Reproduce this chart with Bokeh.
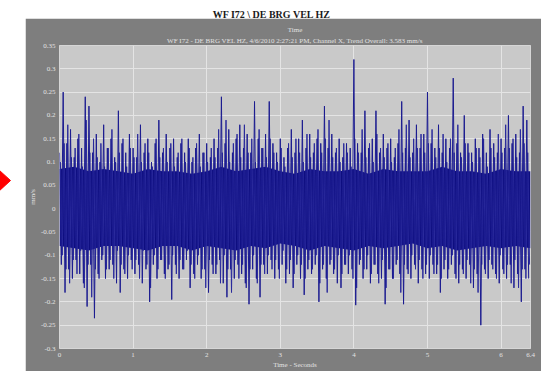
from bokeh.plotting import figure
from bokeh.layouts import column, row
from bokeh.models import Range1d, FixedTicker, Title
from bokeh.core.properties import value
from bokeh.embed import file_html
from bokeh.resources import INLINE

# ---------------- data ----------------
main_title = "WF I72 \\ DE BRG VEL HZ"
panel_title = "Time"
subtitle = "WF I72 - DE BRG VEL HZ, 4/6/2010 2:27:21 PM, Channel X, Trend Overall: 3.583 mm/s"
x_label = "Time - Seconds"
y_label = "mm/s"

x_ticks = [0, 1, 2, 3, 4, 5, 6, 6.4]
x_tick_labels = ["0", "1", "2", "3", "4", "5", "6", "6.4"]
y_ticks = [-0.3, -0.25, -0.2, -0.15, -0.1, -0.05, 0, 0.05, 0.1, 0.15, 0.2, 0.25, 0.3, 0.35]
y_tick_labels = ["-0.3", "-0.25", "-0.2", "-0.15", "-0.1", "-0.05", "0",
                 "0.05", "0.1", "0.15", "0.2", "0.25", "0.3", "0.35"]

sample_step = 0.05  # seconds between successive positive peaks of one sweep

# sweep A: positive peaks
upper_peaks = [
    0.12, 0.25, 0.14, 0.17, 0.11, 0.15, 0.13, 0.24, 0.22, 0.12,
    0.16, 0.10, 0.18, 0.13, 0.15, 0.11, 0.21, 0.14, 0.12, 0.16,
    0.13, 0.11, 0.18, 0.12, 0.15, 0.10, 0.14, 0.19, 0.12, 0.16,
    0.13, 0.15, 0.11, 0.14, 0.12, 0.15, 0.10, 0.13, 0.16, 0.12,
    0.14, 0.11, 0.15, 0.13, 0.24, 0.14, 0.17, 0.12, 0.15, 0.18,
    0.13, 0.16, 0.12, 0.23, 0.15, 0.13, 0.16, 0.23, 0.14, 0.12,
    0.15, 0.11, 0.13, 0.17, 0.12, 0.15, 0.19, 0.13, 0.16, 0.12,
    0.15, 0.14, 0.22, 0.13, 0.16, 0.12, 0.15, 0.11, 0.14, 0.13,
    0.32, 0.14, 0.12, 0.21, 0.13, 0.15, 0.21, 0.12, 0.16, 0.13,
    0.15, 0.11, 0.14, 0.23, 0.13, 0.19, 0.12, 0.18, 0.13, 0.16,
    0.25, 0.14, 0.13, 0.18, 0.12, 0.15, 0.13, 0.28, 0.14, 0.12,
    0.20, 0.14, 0.12, 0.15, 0.13, 0.16, 0.12, 0.17, 0.14, 0.12,
    0.15, 0.13, 0.20, 0.14, 0.16, 0.12, 0.22, 0.19,
]

# sweep A: negative peaks (half a step after each positive peak)
lower_peaks = [
    -0.12, -0.18, -0.13, -0.15, -0.11, -0.14, -0.16, -0.21, -0.12, -0.235,
    -0.14, -0.11, -0.15, -0.13, -0.12, -0.16, -0.18, -0.13, -0.15, -0.11,
    -0.14, -0.12, -0.16, -0.13, -0.20, -0.12, -0.15, -0.11, -0.14, -0.13,
    -0.195, -0.12, -0.15, -0.13, -0.11, -0.17, -0.14, -0.12, -0.15, -0.13,
    -0.18, -0.12, -0.14, -0.11, -0.16, -0.19, -0.13, -0.15, -0.12, -0.14,
    -0.16, -0.205, -0.13, -0.15, -0.19, -0.12, -0.14, -0.11, -0.15, -0.13,
    -0.12, -0.16, -0.14, -0.17, -0.12, -0.15, -0.185, -0.13, -0.14, -0.12,
    -0.20, -0.13, -0.15, -0.12, -0.14, -0.16, -0.17, -0.12, -0.14, -0.13,
    -0.207, -0.12, -0.15, -0.13, -0.16, -0.12, -0.14, -0.15, -0.205, -0.13,
    -0.15, -0.12, -0.14, -0.205, -0.13, -0.15, -0.12, -0.16, -0.13, -0.14,
    -0.15, -0.12, -0.14, -0.18, -0.13, -0.15, -0.12, -0.14, -0.16, -0.13,
    -0.15, -0.12, -0.17, -0.14, -0.25, -0.13, -0.15, -0.12, -0.14, -0.16,
    -0.13, -0.15, -0.12, -0.17, -0.14, -0.20, -0.13, -0.15,
]

# sweep B (the peaks lying between those of sweep A)
upper_peaks_b = [
    0.10, 0.14, 0.18, 0.11, 0.13, 0.16, 0.09, 0.19, 0.12, 0.15,
    0.11, 0.14, 0.09, 0.13, 0.17, 0.10, 0.12, 0.15, 0.09, 0.13,
    0.11, 0.16, 0.10, 0.14, 0.12, 0.09, 0.15, 0.11, 0.13, 0.10,
    0.14, 0.09, 0.12, 0.15, 0.10, 0.13, 0.11, 0.14, 0.09, 0.12,
    0.10, 0.13, 0.11, 0.17, 0.12, 0.19, 0.10, 0.14, 0.16, 0.11,
    0.18, 0.12, 0.15, 0.10, 0.17, 0.13, 0.11, 0.15, 0.12, 0.10,
    0.13, 0.09, 0.14, 0.11, 0.15, 0.12, 0.10, 0.16, 0.11, 0.14,
    0.17, 0.12, 0.15, 0.19, 0.11, 0.13, 0.10, 0.14, 0.12, 0.09,
    0.15, 0.12, 0.17, 0.11, 0.14, 0.10, 0.16, 0.13, 0.11, 0.14,
    0.10, 0.13, 0.17, 0.12, 0.18, 0.11, 0.15, 0.13, 0.16, 0.12,
    0.14, 0.17, 0.11, 0.13, 0.16, 0.10, 0.15, 0.12, 0.18, 0.11,
    0.14, 0.12, 0.10, 0.13, 0.11, 0.15, 0.09, 0.13, 0.11, 0.16,
    0.12, 0.18, 0.13, 0.15, 0.11, 0.17, 0.14, 0.12,
]
lower_peaks_b = [
    -0.10, -0.13, -0.16, -0.11, -0.14, -0.09, -0.17, -0.12, -0.19, -0.13,
    -0.15, -0.10, -0.13, -0.11, -0.15, -0.09, -0.12, -0.14, -0.10, -0.13,
    -0.11, -0.15, -0.09, -0.12, -0.17, -0.10, -0.13, -0.11, -0.15, -0.12,
    -0.10, -0.14, -0.11, -0.13, -0.09, -0.12, -0.15, -0.10, -0.13, -0.17,
    -0.11, -0.14, -0.12, -0.16, -0.10, -0.13, -0.18, -0.11, -0.15, -0.12,
    -0.17, -0.13, -0.10, -0.16, -0.12, -0.14, -0.10, -0.13, -0.11, -0.15,
    -0.09, -0.13, -0.11, -0.14, -0.10, -0.12, -0.15, -0.11, -0.13, -0.10,
    -0.16, -0.12, -0.18, -0.11, -0.13, -0.10, -0.14, -0.12, -0.10, -0.15,
    -0.17, -0.11, -0.13, -0.10, -0.14, -0.12, -0.16, -0.11, -0.17, -0.13,
    -0.15, -0.11, -0.18, -0.12, -0.14, -0.10, -0.13, -0.11, -0.15, -0.12,
    -0.10, -0.14, -0.12, -0.15, -0.11, -0.13, -0.10, -0.15, -0.12, -0.14,
    -0.11, -0.16, -0.13, -0.18, -0.12, -0.14, -0.11, -0.13, -0.15, -0.10,
    -0.14, -0.12, -0.16, -0.11, -0.17, -0.13, -0.15, -0.12,
]

# dense dark core of the signal: its edges every 0.2 s
core_step = 0.2
core_upper = [0.085, 0.09, 0.08, 0.085, 0.08, 0.075, 0.085, 0.08, 0.08, 0.075,
              0.08, 0.09, 0.08, 0.085, 0.09, 0.08, 0.075, 0.085, 0.08, 0.08,
              0.085, 0.075, 0.085, 0.08, 0.08, 0.08, 0.09, 0.08, 0.08, 0.075,
              0.085, 0.08, 0.08]
core_lower = [-0.08, -0.085, -0.09, -0.08, -0.08, -0.085, -0.09, -0.08, -0.08, -0.09,
              -0.08, -0.085, -0.09, -0.08, -0.085, -0.075, -0.08, -0.09, -0.08, -0.085,
              -0.09, -0.08, -0.085, -0.08, -0.075, -0.085, -0.08, -0.09, -0.085, -0.08,
              -0.085, -0.08, -0.085]


def sweep(ups, lows, start):
    t, v = [], []
    for i, (u, l) in enumerate(zip(ups, lows)):
        t += [start + i * sample_step, start + i * sample_step + sample_step / 2]
        v += [u, l]
    return t, v


ta, va = sweep(upper_peaks, lower_peaks, 0.0)
tb, vb = sweep(upper_peaks_b, lower_peaks_b, sample_step / 4)
core_t = [i * core_step for i in range(len(core_upper))]

SERIF = "Liberation Serif"
PANEL = "#7e7e7e"
LABEL = "#e2e2e2"

# ---------------- title strip ----------------
tf = figure(width=532, height=18, x_range=Range1d(0, 1), y_range=Range1d(0, 1),
            x_axis_type=None, y_axis_type=None, min_border=0,
            toolbar_location=None, output_backend="svg",
            background_fill_color="white", border_fill_color="white",
            outline_line_color=None)
tf.grid.visible = False
tf.text(x=[0.51], y=[0.25], text=[main_title], text_align="center",
        text_baseline="middle", text_font=value(SERIF), text_font_style="bold",
        text_font_size="10px", text_color="#1a1a1a")

# ---------------- left strip with marker ----------------
lf = figure(width=29, height=344, x_range=Range1d(0, 29), y_range=Range1d(0, 344),
            x_axis_type=None, y_axis_type=None, min_border=0,
            toolbar_location=None, output_backend="svg",
            background_fill_color="white", border_fill_color="white",
            outline_line_color=None)
lf.styles = {"margin-left": "-4px"}
lf.grid.visible = False
lf.patch(x=[0, 14, 0], y=[201, 186, 171], fill_color="#ff0000", line_color="#ff0000")

# ---------------- main chart ----------------
p = figure(frame_width=471, frame_height=303,
           x_range=Range1d(0, 6.4), y_range=Range1d(-0.3, 0.35),
           toolbar_location=None, output_backend="svg",
           background_fill_color="#c9c9c9", border_fill_color=PANEL,
           outline_line_color="#d6d6d6",
           min_border_left=33, min_border_right=11, min_border_top=27, min_border_bottom=20)

p.title.text = panel_title
p.title.text_font = SERIF
p.title.text_font_size = "7px"
p.title.text_font_style = "normal"
p.title.text_color = LABEL
p.title.align = "center"
p.title.standoff = 0
p.title.offset = 0
p.add_layout(Title(text=subtitle, text_font=SERIF, text_font_size="7px",
                   text_font_style="normal", text_color=LABEL, align="center",
                   standoff=2), "above")

p.xaxis.ticker = FixedTicker(ticks=x_ticks)
p.xaxis.major_label_overrides = dict(zip(x_ticks, x_tick_labels))
p.yaxis.ticker = FixedTicker(ticks=y_ticks)
p.yaxis.major_label_overrides = dict(zip(y_ticks, y_tick_labels))

for ax in (p.xaxis, p.yaxis):
    ax.axis_line_color = None
    ax.major_tick_line_color = None
    ax.minor_tick_line_color = None
    ax.major_tick_out = 0
    ax.major_tick_in = 0
    ax.minor_tick_out = 0
    ax.minor_tick_in = 0
    ax.major_label_text_font = SERIF
    ax.major_label_text_font_size = "7px"
    ax.major_label_text_color = LABEL
    ax.axis_label_text_font = SERIF
    ax.axis_label_text_font_size = "7px"
    ax.axis_label_text_font_style = "normal"
    ax.axis_label_text_color = LABEL
    ax.major_label_standoff = 4
    ax.axis_label_standoff = 1

p.xaxis.axis_label = x_label
p.yaxis.axis_label = y_label

p.grid.grid_line_color = "#e4e4e4"
p.grid.grid_line_width = 1
p.xgrid.ticker = FixedTicker(ticks=x_ticks)
p.ygrid.ticker = FixedTicker(ticks=y_ticks)

p.varea(x=core_t, y1=core_lower, y2=core_upper, fill_color="#0e0e80")
p.line(tb, vb, line_color="#2a2a9c", line_width=1)
p.line(ta, va, line_color="#1c1c90", line_width=1)

layout = column(tf, row(lf, p))

open("out.html", "w").write(file_html(layout, INLINE))
